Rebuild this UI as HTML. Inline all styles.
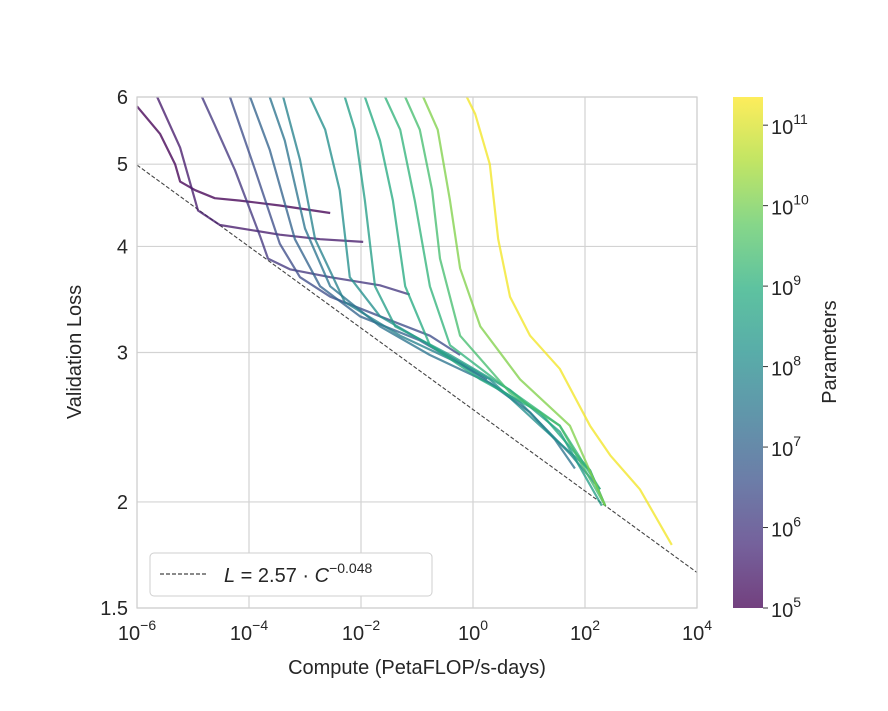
<!DOCTYPE html>
<html><head><meta charset="utf-8"><style>
body{margin:0;background:#fff;}
svg text{font-family:"Liberation Sans","DejaVu Sans",sans-serif;fill:#262626;}
</style></head><body>
<svg id="chart" width="888" height="706" xmlns="http://www.w3.org/2000/svg">
<defs>
<linearGradient id="vir" x1="0" y1="1" x2="0" y2="0">
<stop offset="0" stop-color="#440154"/><stop offset="0.125" stop-color="#472d7b"/><stop offset="0.25" stop-color="#3b528b"/><stop offset="0.375" stop-color="#2c728e"/><stop offset="0.5" stop-color="#21918c"/><stop offset="0.625" stop-color="#28ae80"/><stop offset="0.75" stop-color="#5ec962"/><stop offset="0.875" stop-color="#addc30"/><stop offset="1" stop-color="#fde725"/>
</linearGradient>
</defs>
<g id="grid"></g>
<g id="series"></g>
<rect x="137" y="97" width="560" height="511" fill="none" stroke="#d0d0d0" stroke-width="1.2"/>
<g id="ticks"></g>
<text x="417" y="674" font-size="20" text-anchor="middle">Compute (PetaFLOP/s-days)</text>
<text x="0" y="0" font-size="20" text-anchor="middle" transform="translate(81,352) rotate(-90)">Validation Loss</text>
<g>
<rect x="150" y="553" width="282" height="43" rx="4" fill="#fff" stroke="#cfcfcf"/>
<line x1="160" y1="574" x2="208" y2="574" stroke="#444" stroke-width="1.2" stroke-dasharray="4,2"/>
<text x="224" y="582" font-size="20"><tspan font-style="italic">L</tspan> = 2.57 · <tspan font-style="italic">C</tspan><tspan font-size="14" dy="-9">−0.048</tspan></text>
</g>
<rect x="733" y="97" width="30" height="511" fill="url(#vir)" opacity="0.75"/>
<g id="cbticks"></g>
<text x="0" y="0" font-size="20" text-anchor="middle" transform="translate(836,352) rotate(-90)">Parameters</text>
</svg>
<script>
const params=[1e5,3e5,1e6,3e6,1e7,2.5e7,6e7,1.25e8,3.5e8,7.6e8,1.3e9,2.7e9,1.3e10,1.75e11];
const logCompute=[
[-6,-5.59,-5.32,-5.23,-4.96,-4.61,-4.16,-3.45,-2.55],
[-5.64,-5.23,-4.91,-4.52,-3.45,-2.73,-1.96],
[-4.84,-4.61,-4.25,-3.80,-3.66,-3.27,-2.55,-1.66,-1.13],
[-4.34,-3.89,-3.45,-3.09,-2.55,-1.66,-0.77,-0.23],
[-3.98,-3.63,-3.18,-2.73,-2.02,-0.95,0.25],
[-3.63,-3.36,-3.0,-2.55,-1.66,-0.77,0.30,1.02,1.46,1.82],
[-3.39,-3.09,-2.82,-2.29,-1.30,-0.23,0.84,1.73,2.27],
[-2.91,-2.64,-2.38,-2.20,-1.66,-0.77,0.30,1.20,2.09,2.36],
[-2.29,-2.11,-1.93,-1.75,-1.39,-0.41,0.66,1.55,2.30],
[-1.93,-1.66,-1.43,-1.21,-0.77,0.13,1.20,2.09,2.36],
[-1.57,-1.30,-1.04,-0.77,-0.41,0.48,1.55,2.27],
[-1.21,-0.95,-0.73,-0.59,-0.23,0.66,1.55,2.36],
[-0.89,-0.63,-0.41,-0.23,0.13,0.84,1.73,2.36],
[-0.11,0.04,0.30,0.45,0.66,1.02,1.55,2.09,2.45,2.98,3.55]];
const lossValues=[
[5.85,5.43,5.00,4.77,4.66,4.56,4.53,4.47,4.38],
[6,5.23,4.41,4.24,4.13,4.08,4.05],
[6,5.56,4.92,4.11,3.87,3.76,3.68,3.60,3.51],
[6,4.92,4.03,3.68,3.49,3.31,3.14,2.98],
[6,5.2,4.08,3.59,3.31,3.10,2.79],
[6,5.33,4.2,3.59,3.22,2.98,2.76,2.55,2.37,2.19],
[6,5.06,4.08,3.44,3.14,2.91,2.62,2.28,2.07],
[6,5.49,4.66,3.68,3.31,3.06,2.79,2.46,2.18,1.98],
[6,5.49,4.53,3.59,3.22,2.98,2.71,2.42,1.98],
[6,5.33,4.53,3.59,3.06,2.79,2.55,2.18,1.98],
[6,5.49,4.53,3.59,3.06,2.76,2.46,2.07],
[6,5.49,4.66,3.87,3.14,2.69,2.46,1.98],
[6,5.49,4.53,3.77,3.22,2.79,2.46,1.98],
[6,5.73,5.0,4.08,3.49,3.14,2.87,2.46,2.27,2.07,1.78]];
const xTickExps=[-6,-4,-2,0,2,4];
const yTicks=[1.5,2,3,4,5,6];
const cbExps=[5,6,7,8,9,10,11];
const fitA=2.57, fitB=-0.048;

const NS="http://www.w3.org/2000/svg";
const X0=137,X1=697,Y0=97,Y1=608,XMIN=-6,XMAX=4,LMIN=1.5,LMAX=6;
const xs=lc=>X0+(lc-XMIN)/(XMAX-XMIN)*(X1-X0);
const ys=L=>Y1-Math.log(L/LMIN)/Math.log(LMAX/LMIN)*(Y1-Y0);
const PMIN=5,PMAX=11.35;
const cbY=lp=>Y1-(lp-PMIN)/(PMAX-PMIN)*(Y1-Y0);
const vir=[[68,1,84],[71,45,123],[59,82,139],[44,114,142],[33,145,140],[40,174,128],[94,201,98],[173,220,48],[253,231,37]];
function viridis(t){t=Math.max(0,Math.min(1,t));const p=t*8,i=Math.min(7,Math.floor(p)),f=p-i;const c=vir[i].map((v,k)=>Math.round(v+(vir[i+1][k]-v)*f));return `rgb(${c})`;}
function mk(tag,attrs,parent){const e=document.createElementNS(NS,tag);for(const k in attrs)e.setAttribute(k,attrs[k]);parent.appendChild(e);return e;}
const grid=document.getElementById('grid'),ser=document.getElementById('series'),tk=document.getElementById('ticks'),cb=document.getElementById('cbticks');
xTickExps.forEach(e=>{const x=xs(e);
 const l=mk('line',{x1:x,x2:x,y1:Y0,y2:Y1,stroke:'#d3d3d3','stroke-width':1.2},grid);
 
 
 const t=mk('text',{x:x,y:640,'font-size':20,'text-anchor':'middle'},tk);
 
 
 t.innerHTML=`10<tspan font-size="14" dy="-10">${e<0?'−'+(-e):e}</tspan>`;});
yTicks.forEach(v=>{const y=ys(v);
 const l=mk('line',{x1:X0,x2:X1,y1:y,y2:y,stroke:'#d3d3d3','stroke-width':1.2},grid);
 
 
 const t=mk('text',{x:128,y:y+7,'font-size':20,'text-anchor':'end'},tk);
 
 
 t.textContent=String(v);});
const fit=mk('line',{x1:xs(XMIN),y1:ys(fitA*Math.pow(10,fitB*XMIN)),x2:xs(XMAX),y2:ys(fitA*Math.pow(10,fitB*XMAX)),stroke:'#444','stroke-width':1.1,'stroke-dasharray':'4,2'},ser);


params.forEach((p,i)=>{const t=(Math.log10(p)-PMIN)/(PMAX-PMIN);
 const d=logCompute[i].map((c,j)=>(j?'L':'M')+xs(c).toFixed(1)+','+ys(lossValues[i][j]).toFixed(1)).join(' ');
 const pa=mk('path',{d:d,fill:'none',stroke:viridis(t),'stroke-opacity':0.78,'stroke-width':2.2,'stroke-linejoin':'round'},ser);
 
 });
cbExps.forEach(e=>{const y=cbY(e);
 const l=mk('line',{x1:763,x2:768,y1:y,y2:y,stroke:'#333'},cb);
 
 
 const t=mk('text',{x:771,y:y+9,'font-size':20},cb);
 
 
 t.innerHTML=`10<tspan font-size="14" dy="-10">${e}</tspan>`;});
</script>
</body></html>
